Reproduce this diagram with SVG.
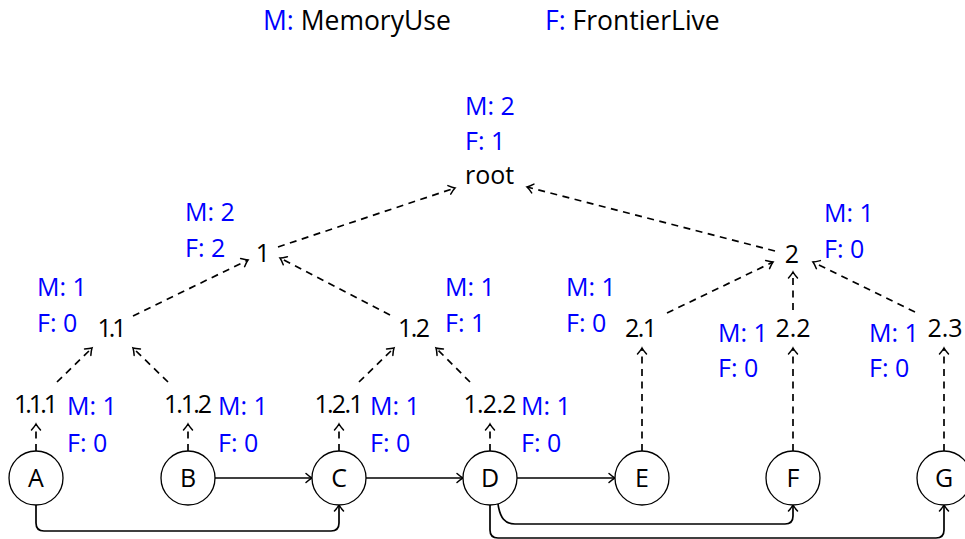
<svg xmlns="http://www.w3.org/2000/svg" width="965" height="539" viewBox="0 0 965 539">
<defs>
<style>
text{font-family:"Open Sans","Noto Sans",sans-serif;font-size:25px;fill:#000}
.b{fill:#0000ff}
.n{text-anchor:middle}
.lg{font-size:26.5px}
.c{fill:#fff;stroke:#000;stroke-width:1.3}
.d{fill:none;stroke:#000;stroke-width:1.7;stroke-dasharray:7 5.5;marker-end:url(#ah)}
.s{fill:none;stroke:#000;stroke-width:1.7;marker-end:url(#ah)}
</style>
<marker id="ah" markerUnits="userSpaceOnUse" markerWidth="12" markerHeight="12" viewBox="-8 -6 10 12" refX="0" refY="0" orient="auto" overflow="visible">
<path d="M-6,-4.5 Q-2,-1 0,0 Q-2,1 -6,4.5" fill="none" stroke="#000" stroke-width="1.5" stroke-dasharray="none" stroke-linecap="round"/>
</marker>
</defs>
<rect width="965" height="539" fill="#fff"/>
<g id="legend">
<text class="lg" x="263" y="30"><tspan class="b">M:</tspan> MemoryUse</text>
<text class="lg" x="545" y="30"><tspan class="b">F:</tspan> FrontierLive</text>
</g>
<g id="connectors">
<path class="d" d="M36,451 L36,424"/>
<path class="d" d="M188,451 L188,424"/>
<path class="d" d="M339,451 L339,424"/>
<path class="d" d="M490,451 L490,424"/>
<path class="d" d="M642,451 L642,348"/>
<path class="d" d="M793,451 L793,348"/>
<path class="d" d="M944,451 L944,348"/>
<path class="d" d="M57,382 L92,348"/>
<path class="d" d="M168,382 L133,348"/>
<path class="d" d="M359,382 L394,348"/>
<path class="d" d="M470,382 L436,348"/>
<path class="d" d="M133,316 L248,260"/>
<path class="d" d="M390,315 L280,258"/>
<path class="d" d="M667,313 L773,262"/>
<path class="d" d="M793,310 L793,272"/>
<path class="d" d="M915,312 L813,262"/>
<path class="d" d="M278,247 L455,188"/>
<path class="d" d="M775,251 L527,187"/>
<path class="s" d="M214,478 L312,478"/>
<path class="s" d="M366,478 L463,478"/>
<path class="s" d="M517,478 L615,478"/>
<path class="s" d="M36,505 L36,523 Q36,531 44,531 L331,531 Q339,531 339,523 L339,505"/>
<path class="s" d="M498,504 C500,518 505,524 515,524 L785,524 Q793,524 793,516 L793,505"/>
<path class="s" d="M490,505 L490,530 Q490,538 498,538 L936,538 Q944,538 944,530 L944,505"/>
</g>
<g id="root">
<text class="b" x="465" y="115">M: 2</text>
<text class="b" x="465" y="150">F: 1</text>
<text x="465" y="184">root</text>
</g>
<g id="n1">
<text class="b" x="185" y="221">M: 2</text>
<text class="b" x="185" y="257">F: 2</text>
<text class="n" x="263" y="262">1</text>
</g>
<g id="n2">
<text class="b" x="824" y="222">M: 1</text>
<text class="b" x="824" y="258">F: 0</text>
<text class="n" x="792" y="263">2</text>
</g>
<g id="n11">
<text class="b" x="37" y="296">M: 1</text>
<text class="b" x="37" y="332">F: 0</text>
<text class="n" x="112" y="337" textLength="29" lengthAdjust="spacing">1.1</text>
</g>
<g id="n12">
<text class="b" x="445" y="296">M: 1</text>
<text class="b" x="445" y="332">F: 1</text>
<text class="n" x="414" y="337" textLength="32" lengthAdjust="spacing">1.2</text>
</g>
<g id="n21">
<text class="b" x="566" y="296">M: 1</text>
<text class="b" x="566" y="332">F: 0</text>
<text class="n" x="641" y="337" textLength="32" lengthAdjust="spacing">2.1</text>
</g>
<g id="n22">
<text class="b" x="718" y="342">M: 1</text>
<text class="b" x="718" y="377">F: 0</text>
<text class="n" x="793" y="337" textLength="35" lengthAdjust="spacing">2.2</text>
</g>
<g id="n23">
<text class="b" x="869" y="342">M: 1</text>
<text class="b" x="869" y="377">F: 0</text>
<text class="n" x="945" y="337" textLength="35" lengthAdjust="spacing">2.3</text>
</g>
<g id="n111">
<text class="n" x="36" y="413" textLength="44" lengthAdjust="spacing">1.1.1</text>
<text class="b" x="67" y="415">M: 1</text>
<text class="b" x="67" y="452">F: 0</text>
</g>
<g id="n112">
<text class="n" x="188" y="413" textLength="48" lengthAdjust="spacing">1.1.2</text>
<text class="b" x="218" y="415">M: 1</text>
<text class="b" x="218" y="452">F: 0</text>
</g>
<g id="n121">
<text class="n" x="339" y="413" textLength="49" lengthAdjust="spacing">1.2.1</text>
<text class="b" x="370" y="415">M: 1</text>
<text class="b" x="370" y="452">F: 0</text>
</g>
<g id="n122">
<text class="n" x="490" y="413" textLength="53" lengthAdjust="spacing">1.2.2</text>
<text class="b" x="521" y="415">M: 1</text>
<text class="b" x="521" y="452">F: 0</text>
</g>
<g id="A"><circle class="c" cx="36" cy="478" r="27"/><text class="n" x="36" y="487">A</text></g>
<g id="B"><circle class="c" cx="188" cy="478" r="27"/><text class="n" x="188" y="487">B</text></g>
<g id="C"><circle class="c" cx="339" cy="478" r="27"/><text class="n" x="339" y="487">C</text></g>
<g id="D"><circle class="c" cx="490" cy="478" r="27"/><text class="n" x="490" y="487">D</text></g>
<g id="E"><circle class="c" cx="642" cy="478" r="27"/><text class="n" x="642" y="487">E</text></g>
<g id="F"><circle class="c" cx="793" cy="478" r="27"/><text class="n" x="793" y="487">F</text></g>
<g id="G"><circle class="c" cx="944" cy="478" r="27"/><text class="n" x="944" y="487">G</text></g>
</svg>
